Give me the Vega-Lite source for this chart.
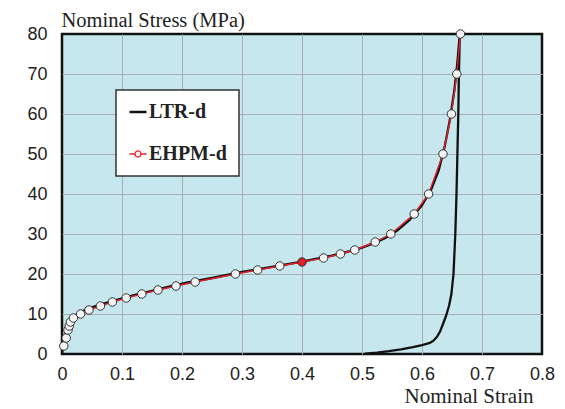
{
  "$schema": "https://vega.github.io/schema/vega-lite/v6.json",
  "width": 480,
  "height": 320,
  "autosize": "none",
  "padding": {"left": 62, "top": 34, "right": 23, "bottom": 55},
  "background": "white",
  "view": {"fill": "#c6e7ee", "stroke": "#111", "strokeWidth": 2.5},
  "datasets": {
    "ltr": [
      {"i": 0, "strain": 0, "stress": 0, "series": "LTR-d"},
      {"i": 1, "strain": 0.002, "stress": 2.5, "series": "LTR-d"},
      {"i": 2, "strain": 0.005, "stress": 4.5, "series": "LTR-d"},
      {"i": 3, "strain": 0.009, "stress": 6.5, "series": "LTR-d"},
      {"i": 4, "strain": 0.014, "stress": 8.2, "series": "LTR-d"},
      {"i": 5, "strain": 0.02, "stress": 9.3, "series": "LTR-d"},
      {"i": 6, "strain": 0.03, "stress": 10.4, "series": "LTR-d"},
      {"i": 7, "strain": 0.045, "stress": 11.4, "series": "LTR-d"},
      {"i": 8, "strain": 0.065, "stress": 12.4, "series": "LTR-d"},
      {"i": 9, "strain": 0.09, "stress": 13.5, "series": "LTR-d"},
      {"i": 10, "strain": 0.12, "stress": 14.7, "series": "LTR-d"},
      {"i": 11, "strain": 0.15, "stress": 15.8, "series": "LTR-d"},
      {"i": 12, "strain": 0.18, "stress": 16.9, "series": "LTR-d"},
      {"i": 13, "strain": 0.21, "stress": 17.9, "series": "LTR-d"},
      {"i": 14, "strain": 0.25, "stress": 19.0, "series": "LTR-d"},
      {"i": 15, "strain": 0.3, "stress": 20.5, "series": "LTR-d"},
      {"i": 16, "strain": 0.35, "stress": 21.8, "series": "LTR-d"},
      {"i": 17, "strain": 0.4, "stress": 23.1, "series": "LTR-d"},
      {"i": 18, "strain": 0.45, "stress": 24.6, "series": "LTR-d"},
      {"i": 19, "strain": 0.48, "stress": 25.7, "series": "LTR-d"},
      {"i": 20, "strain": 0.5, "stress": 26.6, "series": "LTR-d"},
      {"i": 21, "strain": 0.52, "stress": 27.7, "series": "LTR-d"},
      {"i": 22, "strain": 0.54, "stress": 29.1, "series": "LTR-d"},
      {"i": 23, "strain": 0.56, "stress": 31.0, "series": "LTR-d"},
      {"i": 24, "strain": 0.58, "stress": 33.6, "series": "LTR-d"},
      {"i": 25, "strain": 0.6, "stress": 37.2, "series": "LTR-d"},
      {"i": 26, "strain": 0.615, "stress": 41, "series": "LTR-d"},
      {"i": 27, "strain": 0.628, "stress": 46, "series": "LTR-d"},
      {"i": 28, "strain": 0.638, "stress": 52, "series": "LTR-d"},
      {"i": 29, "strain": 0.647, "stress": 59, "series": "LTR-d"},
      {"i": 30, "strain": 0.654, "stress": 66, "series": "LTR-d"},
      {"i": 31, "strain": 0.659, "stress": 73, "series": "LTR-d"},
      {"i": 32, "strain": 0.663, "stress": 80, "series": "LTR-d"},
      {"i": 33, "strain": 0.6615, "stress": 70, "series": "LTR-d"},
      {"i": 34, "strain": 0.6605, "stress": 60, "series": "LTR-d"},
      {"i": 35, "strain": 0.659, "stress": 50, "series": "LTR-d"},
      {"i": 36, "strain": 0.6575, "stress": 40, "series": "LTR-d"},
      {"i": 37, "strain": 0.6555, "stress": 30, "series": "LTR-d"},
      {"i": 38, "strain": 0.6525, "stress": 20, "series": "LTR-d"},
      {"i": 39, "strain": 0.649, "stress": 15, "series": "LTR-d"},
      {"i": 40, "strain": 0.645, "stress": 12, "series": "LTR-d"},
      {"i": 41, "strain": 0.64, "stress": 9.5, "series": "LTR-d"},
      {"i": 42, "strain": 0.635, "stress": 7.5, "series": "LTR-d"},
      {"i": 43, "strain": 0.63, "stress": 5.6, "series": "LTR-d"},
      {"i": 44, "strain": 0.625, "stress": 4.3, "series": "LTR-d"},
      {"i": 45, "strain": 0.619, "stress": 3.3, "series": "LTR-d"},
      {"i": 46, "strain": 0.612, "stress": 2.7, "series": "LTR-d"},
      {"i": 47, "strain": 0.6, "stress": 2.2, "series": "LTR-d"},
      {"i": 48, "strain": 0.585, "stress": 1.7, "series": "LTR-d"},
      {"i": 49, "strain": 0.565, "stress": 1.15, "series": "LTR-d"},
      {"i": 50, "strain": 0.545, "stress": 0.7, "series": "LTR-d"},
      {"i": 51, "strain": 0.525, "stress": 0.35, "series": "LTR-d"},
      {"i": 52, "strain": 0.505, "stress": 0.1, "series": "LTR-d"}
    ],
    "ehpm": [
      {"i": 0, "strain": 0.003, "stress": 2, "series": "EHPM-d"},
      {"i": 1, "strain": 0.007, "stress": 4, "series": "EHPM-d"},
      {"i": 2, "strain": 0.01, "stress": 6, "series": "EHPM-d"},
      {"i": 3, "strain": 0.012, "stress": 7, "series": "EHPM-d"},
      {"i": 4, "strain": 0.014, "stress": 8, "series": "EHPM-d"},
      {"i": 5, "strain": 0.019, "stress": 9, "series": "EHPM-d"},
      {"i": 6, "strain": 0.031, "stress": 10, "series": "EHPM-d"},
      {"i": 7, "strain": 0.045, "stress": 11, "series": "EHPM-d"},
      {"i": 8, "strain": 0.064, "stress": 12, "series": "EHPM-d"},
      {"i": 9, "strain": 0.084, "stress": 13, "series": "EHPM-d"},
      {"i": 10, "strain": 0.107, "stress": 14, "series": "EHPM-d"},
      {"i": 11, "strain": 0.133, "stress": 15, "series": "EHPM-d"},
      {"i": 12, "strain": 0.16, "stress": 16, "series": "EHPM-d"},
      {"i": 13, "strain": 0.19, "stress": 17, "series": "EHPM-d"},
      {"i": 14, "strain": 0.222, "stress": 18, "series": "EHPM-d"},
      {"i": 15, "strain": 0.289, "stress": 20, "series": "EHPM-d"},
      {"i": 16, "strain": 0.326, "stress": 21, "series": "EHPM-d"},
      {"i": 17, "strain": 0.363, "stress": 22, "series": "EHPM-d"},
      {"i": 18, "strain": 0.4, "stress": 23, "series": "EHPM-d"},
      {"i": 19, "strain": 0.436, "stress": 24, "series": "EHPM-d"},
      {"i": 20, "strain": 0.464, "stress": 25, "series": "EHPM-d"},
      {"i": 21, "strain": 0.488, "stress": 26, "series": "EHPM-d"},
      {"i": 22, "strain": 0.522, "stress": 28, "series": "EHPM-d"},
      {"i": 23, "strain": 0.548, "stress": 30, "series": "EHPM-d"},
      {"i": 24, "strain": 0.587, "stress": 35, "series": "EHPM-d"},
      {"i": 25, "strain": 0.611, "stress": 40, "series": "EHPM-d"},
      {"i": 26, "strain": 0.635, "stress": 50, "series": "EHPM-d"},
      {"i": 27, "strain": 0.649, "stress": 60, "series": "EHPM-d"},
      {"i": 28, "strain": 0.658, "stress": 70, "series": "EHPM-d"},
      {"i": 29, "strain": 0.664, "stress": 80, "series": "EHPM-d"}
    ]
  },
  "encoding": {
    "x": {
      "field": "strain", "type": "quantitative",
      "scale": {"domain": [0, 0.8], "nice": false, "zero": false},
      "axis": {
        "values": [0, 0.1, 0.2, 0.3, 0.4, 0.5, 0.6, 0.7, 0.8],
        "labelExpr": "datum.value === 0 ? '0' : format(datum.value, '.1f')",
        "title": "Nominal Strain",
        "titleFont": "Liberation Serif", "titleFontSize": 21, "titleFontWeight": "normal", "titleColor": "#222",
        "titleAlign": "right", "titleAnchor": null, "titleAngle": 0, "titleBaseline": "alphabetic",
        "titleX": 471, "titleY": 48,
        "labelFont": "Liberation Sans", "labelFontSize": 18, "labelColor": "#222", "labelPadding": 11,
        "labelFlush": false,
        "ticks": false, "domain": false,
        "gridColor": "#a7aeb2", "gridWidth": 1, "gridOpacity": {"condition": {"test": "datum.value === 0 || datum.value === 0.8", "value": 0}, "value": 1}
      }
    },
    "y": {
      "field": "stress", "type": "quantitative",
      "scale": {"domain": [0, 80], "nice": false},
      "axis": {
        "values": [0, 10, 20, 30, 40, 50, 60, 70, 80],
        "title": "Nominal Stress (MPa)",
        "titleFont": "Liberation Serif", "titleFontSize": 20.5, "titleFontWeight": "normal", "titleColor": "#222",
        "titleAlign": "left", "titleAnchor": null, "titleAngle": 0, "titleBaseline": "alphabetic",
        "titleX": -1, "titleY": -8,
        "labelFont": "Liberation Sans", "labelFontSize": 18, "labelColor": "#222", "labelPadding": 15,
        "labelFlush": false,
        "ticks": false, "domain": false,
        "gridColor": "#a7aeb2", "gridWidth": 1, "gridOpacity": {"condition": {"test": "datum.value === 0 || datum.value === 80", "value": 0}, "value": 1}
      }
    }
  },
  "layer": [
    {
      "data": {"name": "ltr"},
      "mark": {"type": "line", "strokeWidth": 2.3, "strokeJoin": "round"},
      "encoding": {
        "order": {"field": "i", "type": "quantitative"},
        "color": {
          "field": "series", "type": "nominal",
          "scale": {"domain": ["LTR-d", "EHPM-d"], "range": ["#111111", "#e3202a"]},
          "legend": {
            "orient": "none", "legendX": 54, "legendY": 56, "title": null,
            "fillColor": "white", "strokeColor": "#333", "padding": 12,
            "rowPadding": 22, "symbolSize": 289, "symbolType": "M-1,0H1",
            "labelFont": "Liberation Serif", "labelFontSize": 20, "labelFontWeight": "bold", "labelColor": "#222",
            "labelOffset": 1, "labelLimit": 200,
            "encode": {
              "legend": {"update": {"strokeWidth": {"value": 1.5}}},
              "symbols": {"update": {
                "shape": {"signal": "datum.value === 'EHPM-d' ? 'M-1,0H-0.36M0.36,0H1M0.36,0A0.36,0.36,0,1,1,-0.36,0A0.36,0.36,0,1,1,0.36,0' : 'M-1,0H1'"},
                "fill": {"signal": "datum.value === 'EHPM-d' ? '#f2f2f2' : 'transparent'"},
                "strokeWidth": {"signal": "datum.value === 'EHPM-d' ? 1.3 : 2.5"}
              }}
            }
          }
        }
      }
    },
    {
      "data": {"name": "ehpm"},
      "mark": {"type": "line", "strokeWidth": 1.4},
      "encoding": {
        "order": {"field": "i", "type": "quantitative"},
        "color": {"field": "series", "type": "nominal"}
      }
    },
    {
      "data": {"name": "ehpm"},
      "mark": {"type": "point", "shape": "circle", "size": 72, "filled": true, "stroke": "#333", "strokeWidth": 1, "opacity": 1},
      "encoding": {
        "fill": {"condition": {"test": "datum.stress === 23", "value": "#e3202a"}, "value": "#f4f4f4"}
      }
    }
  ]
}
